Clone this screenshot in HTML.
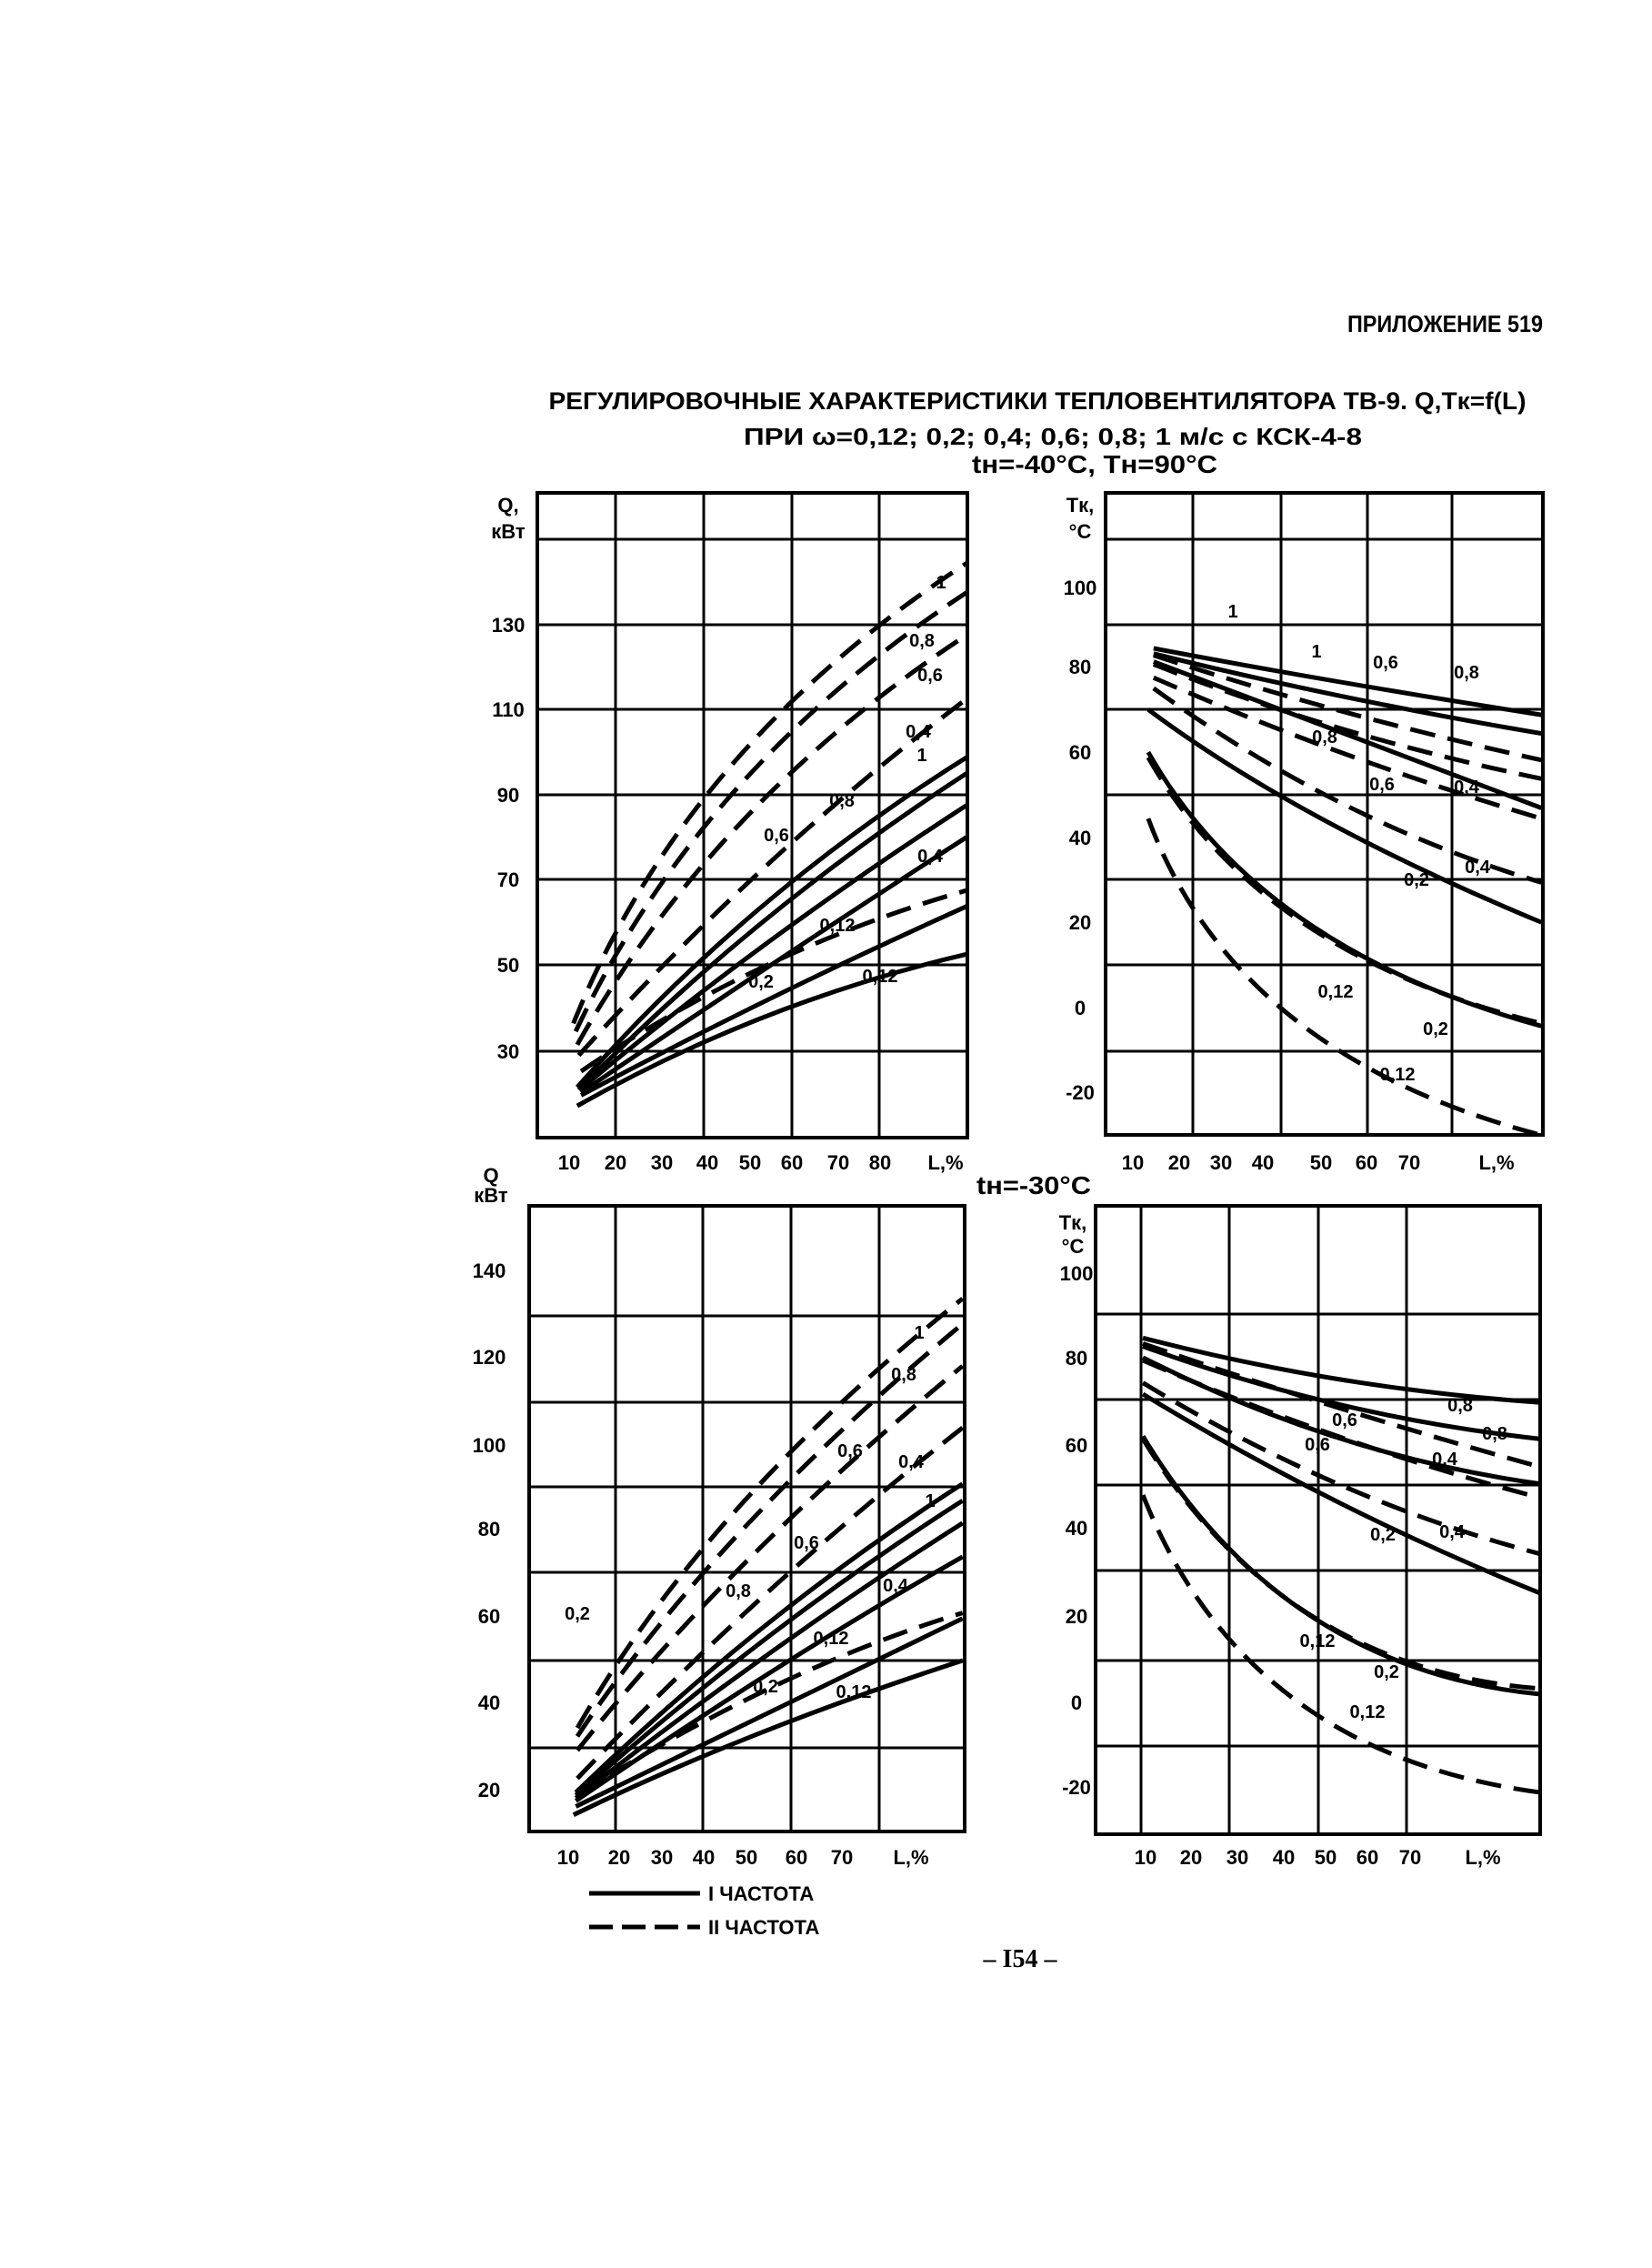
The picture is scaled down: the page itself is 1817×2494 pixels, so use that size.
<!DOCTYPE html>
<html><head><meta charset="utf-8"><style>
html,body{margin:0;padding:0;background:#fff}
svg{display:block}
text{font-family:"Liberation Sans",sans-serif;font-weight:bold;fill:#000}
.t{font-size:22px}
.c{font-size:20px}
</style></head><body>
<svg width="1817" height="2494" viewBox="0 0 1817 2494" xmlns="http://www.w3.org/2000/svg">
<rect width="1817" height="2494" fill="#fff"/>
<text x="1697" y="365" font-size="26" text-anchor="end" transform="translate(1697,365) scale(0.9,1) translate(-1697,-365)">ПРИЛОЖЕНИЕ 519</text>
<text x="1141" y="450" font-size="27" text-anchor="middle" textLength="1075" lengthAdjust="spacingAndGlyphs">РЕГУЛИРОВОЧНЫЕ  ХАРАКТЕРИСТИКИ ТЕПЛОВЕНТИЛЯТОРА ТВ-9. Q,Tк=f(L)</text>
<text x="1158" y="489" font-size="26" text-anchor="middle" textLength="680" lengthAdjust="spacingAndGlyphs">ПРИ ω=0,12; 0,2; 0,4; 0,6; 0,8; 1 м/с  с КСК-4-8</text>
<text x="1204" y="520" font-size="28" text-anchor="middle" textLength="270" lengthAdjust="spacingAndGlyphs">tн=-40°C,  Tн=90°C</text>
<text x="1137" y="1313" font-size="28" text-anchor="middle" textLength="126" lengthAdjust="spacingAndGlyphs">tн=-30°C</text>

<g stroke="#000" fill="none" stroke-width="4">
<!-- top-left frame & grid -->
<rect x="591" y="542" width="473" height="709"/>
<path d="M677,542V1251M774,542V1251M871,542V1251M967,542V1251M591,593H1064M591,687H1064M591,780H1064M591,874H1064M591,967H1064M591,1061H1064M591,1156H1064" stroke-width="3"/>
<!-- top-right -->
<rect x="1216" y="542" width="481" height="706"/>
<path d="M1312,542V1248M1409,542V1248M1504,542V1248M1597,542V1248M1216,593H1697M1216,687H1697M1216,780H1697M1216,874H1697M1216,967H1697M1216,1061H1697M1216,1156H1697" stroke-width="3"/>
<!-- bottom-left -->
<rect x="582" y="1326" width="479" height="688"/>
<path d="M677,1326V2014M773,1326V2014M870,1326V2014M967,1326V2014M582,1447H1061M582,1542H1061M582,1635H1061M582,1729H1061M582,1826H1061M582,1922H1061" stroke-width="3"/>
<!-- bottom-right -->
<rect x="1205" y="1326" width="489" height="691"/>
<path d="M1255,1326V2017M1352,1326V2017M1450,1326V2017M1547,1326V2017M1205,1445H1694M1205,1539H1694M1205,1633H1694M1205,1727H1694M1205,1826H1694M1205,1920H1694" stroke-width="3"/>
<!-- legend -->
<path d="M648,2082H770" stroke-width="5"/>
<path d="M648,2119H770" stroke-width="5" stroke-dasharray="26,10"/>
</g>

<!-- top curves in zoom1 coords -->
<g transform="translate(500,400) scale(0.843,0.585)" fill="none" stroke="#000">
<g stroke-width="5" vector-effect="non-scaling-stroke" style="stroke-width:5px">
<path vector-effect="non-scaling-stroke" d="M160,1360 Q380,1000 668,740"/>
<path vector-effect="non-scaling-stroke" d="M162,1365 Q390,1030 668,770"/>
<path vector-effect="non-scaling-stroke" d="M163,1365 Q400,1080 668,830"/>
<path vector-effect="non-scaling-stroke" d="M165,1370 Q420,1120 668,890"/>
<path vector-effect="non-scaling-stroke" d="M165,1375 Q420,1180 668,1020"/>
<path vector-effect="non-scaling-stroke" d="M160,1395 Q400,1200 668,1110"/>
<path vector-effect="non-scaling-stroke" d="M912,535 Q1150,600 1418,660"/>
<path vector-effect="non-scaling-stroke" d="M912,545 Q1150,630 1418,695"/>
<path vector-effect="non-scaling-stroke" d="M912,560 Q1150,690 1418,835"/>
<path vector-effect="non-scaling-stroke" d="M905,650 Q1100,860 1418,1050"/>
<path vector-effect="non-scaling-stroke" d="M905,730 Q1050,1100 1418,1245"/>
</g>
<g style="stroke-width:5px;stroke-dasharray:28,14">
<path vector-effect="non-scaling-stroke" d="M155,1240 Q300,720 668,375"/>
<path vector-effect="non-scaling-stroke" d="M158,1255 Q320,760 668,430"/>
<path vector-effect="non-scaling-stroke" d="M160,1280 Q340,820 668,510"/>
<path vector-effect="non-scaling-stroke" d="M162,1300 Q400,920 668,630"/>
<path vector-effect="non-scaling-stroke" d="M165,1330 Q400,1100 668,990"/>
<path vector-effect="non-scaling-stroke" d="M912,548 Q1150,660 1418,745"/>
<path vector-effect="non-scaling-stroke" d="M912,565 Q1150,700 1418,780"/>
<path vector-effect="non-scaling-stroke" d="M912,590 Q1150,740 1418,855"/>
<path vector-effect="non-scaling-stroke" d="M912,610 Q1150,860 1418,975"/>
<path vector-effect="non-scaling-stroke" d="M905,740 Q1050,1110 1418,1240"/>
<path vector-effect="non-scaling-stroke" d="M905,855 Q1020,1300 1418,1450"/>
</g>
</g>

<!-- bottom curves in zoom2 coords -->
<g transform="translate(500,1280) scale(0.844,0.617)" fill="none" stroke="#000">
<g style="stroke-width:5px">
<path vector-effect="non-scaling-stroke" d="M158,1120 Q400,800 662,570"/>
<path vector-effect="non-scaling-stroke" d="M158,1125 Q410,820 662,600"/>
<path vector-effect="non-scaling-stroke" d="M158,1130 Q420,850 662,640"/>
<path vector-effect="non-scaling-stroke" d="M158,1135 Q430,880 662,700"/>
<path vector-effect="non-scaling-stroke" d="M158,1145 Q420,970 662,810"/>
<path vector-effect="non-scaling-stroke" d="M155,1160 Q380,1010 662,885"/>
<path vector-effect="non-scaling-stroke" d="M897,310 Q1150,400 1415,425"/>
<path vector-effect="non-scaling-stroke" d="M897,325 Q1150,450 1415,490"/>
<path vector-effect="non-scaling-stroke" d="M897,345 Q1150,520 1415,570"/>
<path vector-effect="non-scaling-stroke" d="M897,410 Q1150,620 1415,765"/>
<path vector-effect="non-scaling-stroke" d="M897,485 Q1080,900 1415,945"/>
</g>
<g style="stroke-width:5px;stroke-dasharray:28,14">
<path vector-effect="non-scaling-stroke" d="M160,1005 Q330,600 662,240"/>
<path vector-effect="non-scaling-stroke" d="M160,1020 Q340,650 662,285"/>
<path vector-effect="non-scaling-stroke" d="M160,1045 Q360,700 662,360"/>
<path vector-effect="non-scaling-stroke" d="M160,1095 Q400,750 662,470"/>
<path vector-effect="non-scaling-stroke" d="M160,1125 Q420,900 662,800"/>
<path vector-effect="non-scaling-stroke" d="M897,320 Q1150,440 1415,540"/>
<path vector-effect="non-scaling-stroke" d="M897,350 Q1150,500 1415,595"/>
<path vector-effect="non-scaling-stroke" d="M897,390 Q1150,600 1415,695"/>
<path vector-effect="non-scaling-stroke" d="M897,490 Q1080,900 1415,935"/>
<path vector-effect="non-scaling-stroke" d="M897,590 Q1030,1050 1415,1120"/>
</g>
</g>

<!-- axis labels top-left -->
<g class="t" text-anchor="middle">
<text x="559" y="563">Q,</text><text x="559" y="592">кВт</text>
<text x="559" y="695">130</text><text x="559" y="788">110</text><text x="559" y="882">90</text><text x="559" y="975">70</text><text x="559" y="1069">50</text><text x="559" y="1164">30</text>
<text x="626" y="1286">10</text><text x="677" y="1286">20</text><text x="728" y="1286">30</text><text x="778" y="1286">40</text><text x="825" y="1286">50</text><text x="871" y="1286">60</text><text x="922" y="1286">70</text><text x="968" y="1286">80</text><text x="1040" y="1286">L,%</text>
<!-- top-right -->
<text x="1188" y="563">Tк,</text><text x="1188" y="592">°C</text>
<text x="1188" y="654">100</text><text x="1188" y="741">80</text><text x="1188" y="835">60</text><text x="1188" y="929">40</text><text x="1188" y="1022">20</text><text x="1188" y="1116">0</text><text x="1188" y="1209">-20</text>
<text x="1246" y="1286">10</text><text x="1297" y="1286">20</text><text x="1343" y="1286">30</text><text x="1389" y="1286">40</text><text x="1453" y="1286">50</text><text x="1503" y="1286">60</text><text x="1550" y="1286">70</text><text x="1646" y="1286">L,%</text>
<!-- bottom-left -->
<text x="540" y="1300">Q</text><text x="540" y="1322">кВт</text>
<text x="538" y="1405">140</text><text x="538" y="1500">120</text><text x="538" y="1597">100</text><text x="538" y="1689">80</text><text x="538" y="1785">60</text><text x="538" y="1880">40</text><text x="538" y="1976">20</text>
<text x="625" y="2050">10</text><text x="681" y="2050">20</text><text x="728" y="2050">30</text><text x="774" y="2050">40</text><text x="821" y="2050">50</text><text x="876" y="2050">60</text><text x="926" y="2050">70</text><text x="1002" y="2050">L,%</text>
<!-- bottom-right -->
<text x="1180" y="1352">Tк,</text><text x="1180" y="1378">°C</text>
<text x="1184" y="1408">100</text><text x="1184" y="1501">80</text><text x="1184" y="1597">60</text><text x="1184" y="1688">40</text><text x="1184" y="1785">20</text><text x="1184" y="1880">0</text><text x="1184" y="1973">-20</text>
<text x="1260" y="2050">10</text><text x="1310" y="2050">20</text><text x="1361" y="2050">30</text><text x="1412" y="2050">40</text><text x="1458" y="2050">50</text><text x="1504" y="2050">60</text><text x="1551" y="2050">70</text><text x="1631" y="2050">L,%</text>
</g>

<!-- curve labels -->
<g class="c" text-anchor="middle">
<text x="1035" y="647">1</text><text x="1014" y="711">0,8</text><text x="1023" y="749">0,6</text><text x="1010" y="811">0,4</text><text x="1014" y="837">1</text><text x="926" y="887">0,8</text><text x="854" y="925">0,6</text><text x="1023" y="948">0,4</text><text x="921" y="1024">0,12</text><text x="837" y="1086">0,2</text><text x="968" y="1080">0,12</text>
<text x="1356" y="679">1</text><text x="1448" y="723">1</text><text x="1524" y="735">0,6</text><text x="1613" y="746">0,8</text><text x="1457" y="817">0,8</text><text x="1520" y="869">0,6</text><text x="1613" y="872">0,4</text><text x="1625" y="960">0,4</text><text x="1558" y="974">0,2</text><text x="1469" y="1097">0,12</text><text x="1579" y="1138">0,2</text><text x="1537" y="1188">0,12</text>
<text x="1011" y="1472">1</text><text x="994" y="1518">0,8</text><text x="935" y="1602">0,6</text><text x="1002" y="1614">0,4</text><text x="1023" y="1657">1</text><text x="887" y="1703">0,6</text><text x="812" y="1756">0,8</text><text x="985" y="1750">0,4</text><text x="914" y="1808">0,12</text><text x="842" y="1861">0,2</text><text x="939" y="1867">0,12</text><text x="635" y="1781">0,2</text>
<text x="1606" y="1552">0,8</text><text x="1479" y="1568">0,6</text><text x="1644" y="1583">0,8</text><text x="1449" y="1595">0,6</text><text x="1589" y="1611">0,4</text><text x="1521" y="1694">0,2</text><text x="1597" y="1691">0,4</text><text x="1449" y="1811">0,12</text><text x="1525" y="1845">0,2</text><text x="1504" y="1889">0,12</text>
</g>

<text x="779" y="2090" font-size="22">I ЧАСТОТА</text>
<text x="779" y="2127" font-size="22">II ЧАСТОТА</text>
<text x="1122" y="2163" font-size="28" text-anchor="middle" style="font-family:'Liberation Serif',serif">– I54 –</text>
</svg>
</body></html>
